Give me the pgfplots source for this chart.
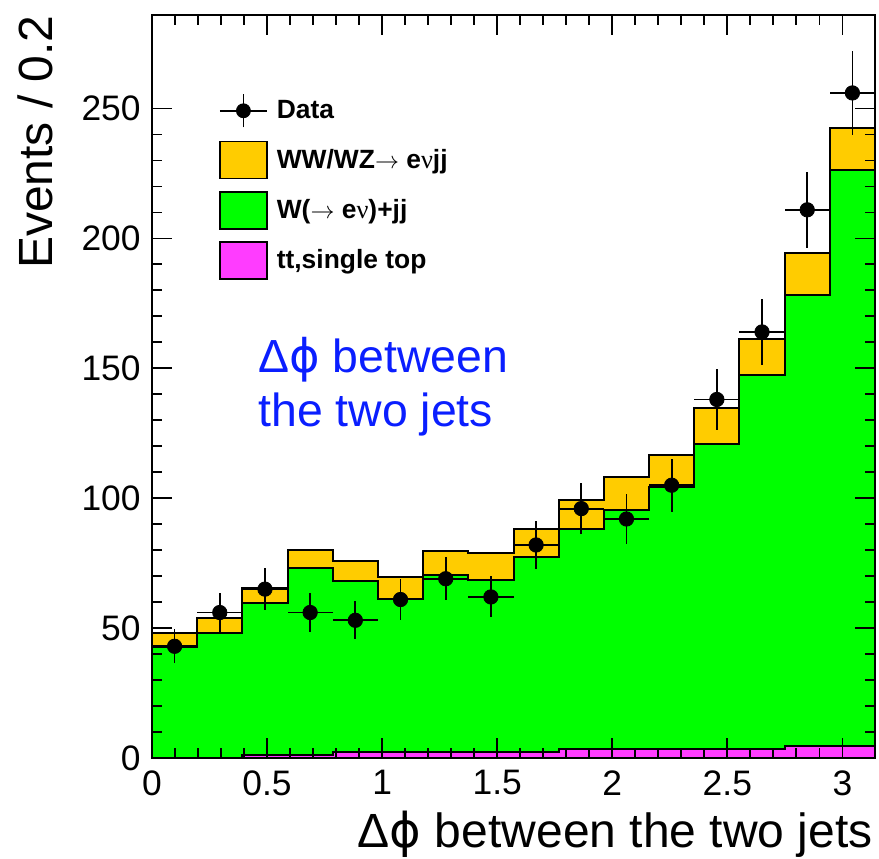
\documentclass[border=0pt]{standalone}
\usepackage{pgfplots}
\pgfplotsset{compat=1.18}
\usepackage{pgfplotstable}
\usepackage{fontspec}
\setmainfont{Liberation Sans}
\newfontfamily\symf{Liberation Serif}
\newfontfamily\phif{DejaVu Sans}

\definecolor{wwyellow}{RGB}{255,204,0}
\definecolor{wjgreen}{RGB}{0,255,0}
\definecolor{topmag}{RGB}{255,60,255}
\definecolor{noteblue}{RGB}{10,30,255}

% stacked MC, cumulative tops per bin (bins of pi/16), last row closes the step
\pgfplotstableread{
lo      tot    wjj    top
0       48.0   42.8   0
0.19635 53.7   48.3   0
0.3927  65.3   59.7   1.0
0.58905 80.0   73.0   1.0
0.7854  75.8   68.1   2.3
0.98175 69.5   61.3   2.3
1.1781  79.6   70.4   2.3
1.37445 79.0   68.7   2.3
1.5708  88.3   77.4   2.3
1.76715 99.5   88.0   3.3
1.9635  108.2  95.6   3.3
2.15985 116.5  104.3  3.3
2.3562  134.9  121.0  3.3
2.55255 161.3  147.6  3.3
2.7489  194.5  178.1  4.5
2.94525 242.4  226.4  4.5
3.14159 242.4  226.4  4.5
}\mctab

% data points with sqrt(N) errors
\pgfplotstableread{
x       y    ex      ey
0.0982  43   0.0982  6.56
0.2945  56   0.0982  7.48
0.4909  65   0.0982  8.06
0.6872  56   0.0982  7.48
0.8836  53   0.0982  7.28
1.0799  61   0.0982  7.81
1.2763  69   0.0982  8.31
1.4726  62   0.0982  7.87
1.6690  82   0.0982  9.06
1.8653  96   0.0982  9.80
2.0617  92   0.0982  9.59
2.2580  105  0.0982  10.25
2.4544  138  0.0982  11.75
2.6507  164  0.0982  12.81
2.8471  211  0.0982  14.53
3.0434  256  0.0982  16.00
}\datatab

\begin{document}
\begin{tikzpicture}
\begin{axis}[
  scale only axis, width=361.5pt, height=371.5pt,
  xmin=0, xmax=3.14159, ymin=0, ymax=286,
  xtick={0,0.5,1,1.5,2,2.5,3}, ytick={0,50,100,150,200,250},
  minor x tick num=4, minor y tick num=4,
  major tick length=10pt, minor tick length=5pt,
  axis on top,
  axis line style={line width=1pt},
  tick style={black, line width=0.9pt},
  tick label style={font=\fontsize{17.7}{20}\selectfont, /pgf/number format/assume math mode=true},
  xticklabel style={inner sep=0pt}, xticklabel shift=6pt,
  yticklabel style={inner sep=0pt}, yticklabel shift=5.5pt,
  xlabel={Δ{\phif ϕ} between the two jets},
  xlabel style={at={(rel axis cs:0.9972,-0.1198)}, anchor=base east, inner sep=0pt, font=\fontsize{24}{28}\selectfont},
  ylabel={Events / 0.2},
  ylabel style={at={(rel axis cs:-0.137,1)}, anchor=base east, inner sep=0pt, font=\fontsize{24}{28}\selectfont},
  legend cell align=left,
  legend style={draw=none, fill=none, at={(rel axis cs:0.0927,0.8960)}, anchor=north west,
    inner sep=0pt, outer sep=0pt,
    font=\fontsize{13.2}{15}\selectfont\bfseries, row sep=5.7pt, column sep=4.5pt,
    nodes={inner sep=0pt}},
]
\addlegendimage{legend image code/.code={
  \draw[line width=0.9pt] (0pt,0pt)--(23.5pt,0pt) (11.75pt,-8.25pt)--(11.75pt,8.25pt);
  \fill (11.75pt,0pt) circle (3.5pt);
  \path[draw=none, fill=none] (0pt,-9.25pt) rectangle (23.5pt,9.25pt);}}
\addlegendentry{Data}
\addlegendimage{legend image code/.code={\draw[fill=wwyellow,line width=0.9pt] (0pt,-9.25pt) rectangle (23.5pt,9.25pt);}}
\addlegendentry{WW/WZ$\rightarrow$ e{\symf\mdseries ν}jj}
\addlegendimage{legend image code/.code={\draw[fill=wjgreen,line width=0.9pt] (0pt,-9.25pt) rectangle (23.5pt,9.25pt);}}
\addlegendentry{W($\rightarrow$ e{\symf\mdseries ν})+jj}
\addlegendimage{legend image code/.code={\draw[fill=topmag,line width=0.9pt] (0pt,-9.25pt) rectangle (23.5pt,9.25pt);}}
\addlegendentry{tt,single top}

\addplot[const plot, fill=wwyellow, draw=black, line width=1pt, forget plot] table[x=lo, y=tot] {\mctab} \closedcycle;
\addplot[const plot, fill=wjgreen, draw=black, line width=1pt, forget plot] table[x=lo, y=wjj] {\mctab} \closedcycle;
\addplot[const plot, fill=topmag, draw=black, line width=1pt, forget plot] table[x=lo, y=top] {\mctab} \closedcycle;

\addplot[only marks, mark=*, mark size=3.6pt, black, forget plot,
  error bars/.cd, x dir=both, x explicit, y dir=both, y explicit, error mark=none,
  error bar style={line width=0.9pt}]
  table[x=x, y=y, x error=ex, y error=ey] {\datatab};

\node[anchor=base west, inner sep=0pt, text=noteblue, font=\fontsize{23.2}{27}\selectfont]
  at (rel axis cs:0.1466,0.5182) {Δ{\phif ϕ} between};
\node[anchor=base west, inner sep=0pt, text=noteblue, font=\fontsize{23.2}{27}\selectfont]
  at (rel axis cs:0.1466,0.4455) {the two jets};
\end{axis}
\path ([xshift=-76pt,yshift=-50pt]current axis.south west) rectangle ([xshift=2pt,yshift=7.5pt]current axis.north east);
\end{tikzpicture}
\end{document}
